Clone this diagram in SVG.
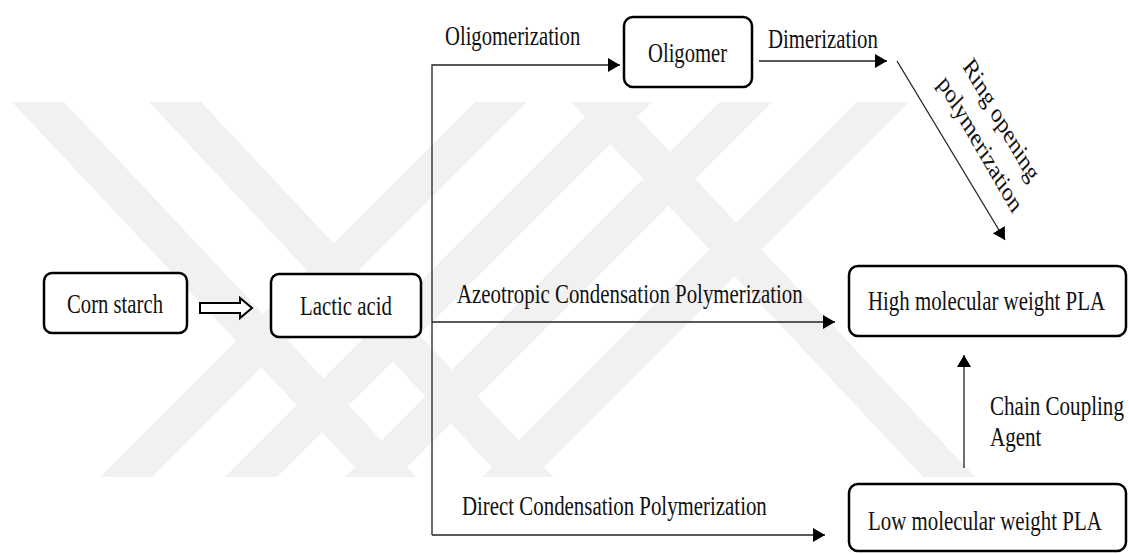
<svg xmlns="http://www.w3.org/2000/svg" width="1129" height="554" viewBox="0 0 1129 554">
<defs>
<marker id="ah" markerUnits="userSpaceOnUse" markerWidth="13" markerHeight="14" refX="12" refY="7" orient="auto">
<path d="M0,0 L12,7 L0,14 z" fill="#000"/>
</marker>
<style>
.box{fill:#fff;stroke:#000;stroke-width:2.5}
.t{font-family:"Liberation Serif","Times New Roman",serif;font-size:27px;fill:#111}
.c{stroke:#222;stroke-width:1.3;fill:none}
.wm{fill:#f1f1f1}
</style>
</defs>
<rect width="1129" height="554" fill="#fff"/>
<g id="watermark">
<polygon class="wm" points="12,102 64,102 416,477 364,477"/>
<polygon class="wm" points="149,102 201,102 553,477 501,477"/>
<polygon class="wm" points="571,102 623,102 975,477 923,477"/>
<polygon class="wm" points="475,102 527,102 152,477 100,477"/>
<polygon class="wm" points="600,102 652,102 277,477 225,477"/>
<polygon class="wm" points="720,102 772,102 397,477 345,477"/>
<polygon class="wm" points="857,102 909,102 534,477 482,477"/>
</g>
<g id="connectors">
<polygon points="200,303 240,303 240,298 252,308 240,318 240,313 200,313" fill="#fff" stroke="#000" stroke-width="2"/>
<path class="c" d="M432,535 V65 H620" marker-end="url(#ah)"/>
<path class="c" d="M759,61 H887" marker-end="url(#ah)"/>
<path class="c" d="M897,61 L1005,240" marker-end="url(#ah)"/>
<path class="c" d="M432,322 H835" marker-end="url(#ah)"/>
<path class="c" d="M432,535 H825" marker-end="url(#ah)"/>
<path class="c" d="M964,468 V355" marker-end="url(#ah)"/>
<text class="t" transform="translate(445,45) scale(0.765,1)">Oligomerization</text>
<text class="t" transform="translate(768,48) scale(0.772,1)">Dimerization</text>
<text class="t" text-anchor="middle" transform="translate(996,125) scale(0.77,1) rotate(53)">Ring opening</text>
<text class="t" text-anchor="middle" transform="translate(975,149) scale(0.77,1) rotate(53)">polymerization</text>
<text class="t" transform="translate(457,303) scale(0.774,1)">Azeotropic Condensation Polymerization</text>
<text class="t" transform="translate(462,515) scale(0.773,1)">Direct Condensation Polymerization</text>
<text class="t" transform="translate(990,415) scale(0.78,1)">Chain Coupling</text>
<text class="t" transform="translate(990,446) scale(0.78,1)">Agent</text>
</g>
<g id="corn-starch">
<rect class="box" x="44" y="273" width="143" height="60" rx="8"/>
<text class="t" transform="translate(67,313) scale(0.767,1)">Corn starch</text>
</g>
<g id="lactic-acid">
<rect class="box" x="271" y="274" width="150" height="63" rx="8"/>
<text class="t" transform="translate(300,315) scale(0.772,1)">Lactic acid</text>
</g>
<g id="oligomer">
<rect class="box" x="624" y="17" width="128" height="70" rx="9"/>
<text class="t" transform="translate(648,62) scale(0.765,1)">Oligomer</text>
</g>
<g id="high-pla">
<rect class="box" x="849" y="266" width="277" height="70" rx="9"/>
<text class="t" transform="translate(868,310) scale(0.773,1)">High molecular weight PLA</text>
</g>
<g id="low-pla">
<rect class="box" x="849" y="484" width="277" height="67" rx="9"/>
<text class="t" transform="translate(868,530) scale(0.774,1)">Low molecular weight PLA</text>
</g>
</svg>
